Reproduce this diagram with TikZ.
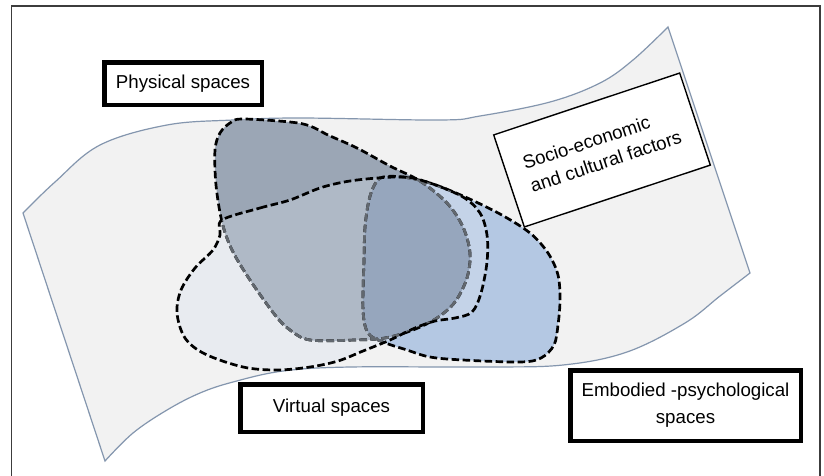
\documentclass[tikz,border=0pt]{standalone}
\usepackage{fontspec}
\setmainfont{Liberation Sans}
\definecolor{sheetfill}{HTML}{F2F2F2}
\definecolor{sheetline}{HTML}{8496AE}
\definecolor{pcol}{HTML}{9BA6B5}
\definecolor{vcol}{HTML}{E8EBF0}
\definecolor{ecol}{HTML}{B4C8E3}
\definecolor{pvcol}{HTML}{AFB9C6}
\definecolor{evcol}{HTML}{C4D3E8}
\definecolor{pecol}{HTML}{96A6BD}
\definecolor{innerline}{HTML}{62686F}
\definecolor{framecol}{HTML}{3C3C3C}
\begin{document}
\begin{tikzpicture}[x=1pt,y=-1pt,
  blob/.style={line width=2.7pt, dash pattern=on 7.5pt off 3.5pt},
  labelbox/.style={draw=black, fill=white, line width=4.5pt, font=\fontsize{18.7}{27}\selectfont, inner sep=0pt, align=center},
  Ppath/.style={insert path={plot[smooth cycle, tension=0.55] coordinates {(242,119) (290,122) (310,126) (328,135) (357,148) (390,166) (420,181) (447,203) (463,227) (470,253) (467,278) (455,302) (437,318) (413,330) (385,338) (355,340) (310,340) (290,330) (275,315) (250,280) (232,250) (222,222) (216,185) (215,150) (220,133) (230,123)}}},
  Vpath/.style={insert path={plot[smooth cycle, tension=0.55] coordinates {(222,220) (260,208) (290,200) (323,187) (357,180) (403,177) (430,183) (463,197) (480,213) (487,235) (487,262) (481,293) (472,312) (455,318) (435,321) (415,328) (390,340) (363,351) (338,361) (310,367) (277,370) (243,367) (205,354) (185,338) (177,313) (181,290) (195,268) (213,250) (220,235)}}},
  Epath/.style={insert path={plot[smooth cycle, tension=0.55] coordinates {(383,177) (403,177) (430,183) (463,196) (500,214) (530,233) (548,253) (558,275) (560,300) (558,325) (554,345) (541,358) (520,362) (463,360) (430,357) (407,350) (383,342) (368,333) (363,310) (364,260) (365,227) (369,200) (375,184)}}},
]
\useasboundingbox (0,0) rectangle (824,475);
\fill[white] (0,0) rectangle (824,475);
\draw[framecol, line width=1.5pt] (11.5,6) rectangle (820,490);
% sheet
\filldraw[fill=sheetfill, draw=sheetline, line width=1.2pt]
  (23,213) -- (105,461)
  -- plot[smooth, tension=0.6] coordinates {(105,461) (133,433) (167,410) (200,393) (233,382) (283,371) (350,367) (483,367) (563,365) (627,352) (685,323) (720,296) (750,273)}
  -- (668,27)
  -- plot[smooth, tension=0.6] coordinates {(668,27) (633,60) (600,83) (550,102) (480,116) (440,120) (300,118) (233,120) (167,125) (100,145) (55,182) (23,213)}
  -- cycle;
% fills
\fill[ecol, Epath];
\fill[vcol, Vpath];
\fill[pcol, Ppath];
\begin{scope}
  \path[clip, Vpath];
  \fill[pvcol, Ppath];
  \fill[evcol, Epath];
  \begin{scope}
    \path[clip, Ppath];
    \fill[pecol, Epath];
  \end{scope}
\end{scope}
% borders
\draw[blob, black, Epath];
\draw[blob, black, Ppath];
\begin{scope}
  \path[clip, Vpath];
  \draw[blob, innerline, Epath];
  \draw[blob, innerline, Ppath];
\end{scope}
\draw[blob, black, Vpath];
% labels
\node[labelbox, minimum width=157.5, minimum height=42.5] (phys) at (183,83.5) {Physical spaces};
\node[labelbox, minimum width=182.5, minimum height=47.5] (virt) at (331.5,408) {Virtual spaces};
\node[labelbox, minimum width=230.5, minimum height=70.5] (embod) at (685.5,405.5) {Embodied -psychological\\spaces};
\node[draw=black, fill=white, line width=1.4pt, rotate=18.4, minimum width=196, minimum height=97, inner sep=0pt, align=left, font=\fontsize{18.7}{24}\selectfont] (socio) at (602,150) {Socio-economic\\and cultural factors};
\end{tikzpicture}
\end{document}
